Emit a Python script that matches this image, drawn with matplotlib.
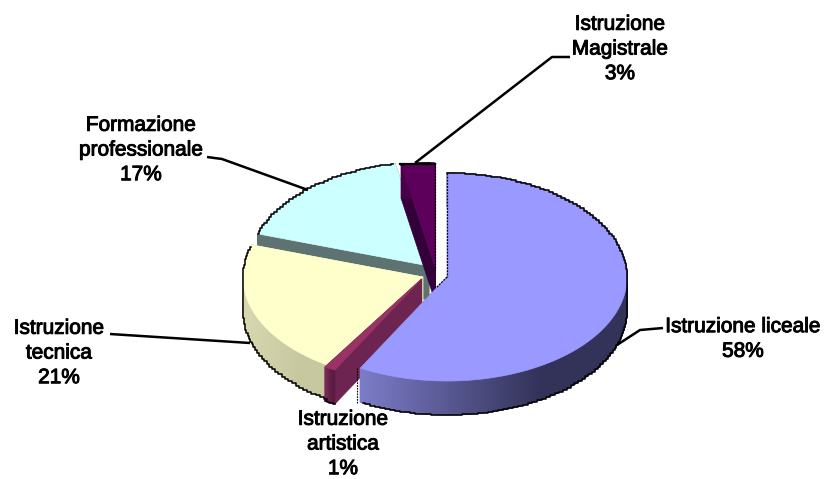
import numpy as np
import matplotlib
matplotlib.use("Agg")
import matplotlib.pyplot as plt
import matplotlib.patheffects as pe
from matplotlib.colors import to_rgb

# data (clockwise from 12 o'clock)
categories = ["Istruzione liceale", "Istruzione\nartistica", "Istruzione\ntecnica",
              "Formazione\nprofessionale", "Istruzione\nMagistrale"]
values = [58, 1, 21, 17, 3]

# style
tops = ["#9999ff", "#993366", "#ffffcc", "#ccffff", "#5c005c"]
cuts = ["#50507f", "#6e2450", "#c9c9a0", "#5f7272", "#33003a"]
wall_l = ["#7c7cc8", "#7a2a58", "#d8d8b0", "#5f7272", "#4a004a"]
wall_r = ["#33335a", "#5a1c42", "#c8c8a0", "#5f7272", "#400040"]
apex = [(447, 277), (421.5, 279), (423, 277), (429, 266), (435, 267)]
RX, RY, DEPTH = 180, 104, 34
draw_order = [3, 4, 2, 1, 0]

fig = plt.figure(figsize=(8.24, 4.79), dpi=100)
ax = fig.add_axes([0, 0, 1, 1])
ax.set_xlim(0, 824)
ax.set_ylim(479, 0)
ax.axis("off")

edges = 90 - 360 * np.concatenate([[0], np.cumsum(values)]) / sum(values)


def silhouette(cx, cy, th):
    xs, ys = [], []
    for t in th:
        r = np.deg2rad(t)
        xs.append(cx + RX * np.cos(r))
        ys.append(cy - RY * np.sin(r) + (DEPTH if np.sin(r) < 0 else 0))
    return xs, ys


for i in draw_order:
    cx, cy = apex[i]
    th = np.linspace(edges[i], edges[i + 1], max(int(abs(edges[i] - edges[i + 1])) * 3, 8))
    rad = np.deg2rad(th)
    ox, oy = cx + RX * np.cos(rad), cy - RY * np.sin(rad)
    # cut faces
    for k in (0, -1):
        ax.fill([cx, ox[k], ox[k], cx], [cy, oy[k], oy[k] + DEPTH, cy + DEPTH],
                color=cuts[i], lw=0.5, zorder=1)
    # outer wall with a horizontal gradient
    c0, c1 = np.array(to_rgb(wall_l[i])), np.array(to_rgb(wall_r[i]))
    lo, hi = ox.min(), ox.max()
    for j in range(len(th) - 1):
        f = ((ox[j] + ox[j + 1]) / 2 - lo) / max(hi - lo, 1)
        f = min(f * 1.5, 1)
        ax.fill([ox[j], ox[j + 1], ox[j + 1], ox[j]],
                [oy[j], oy[j + 1], oy[j + 1] + DEPTH, oy[j] + DEPTH],
                color=tuple(c0 + (c1 - c0) * f), lw=0.8, zorder=1)
    # top surface
    ax.fill(np.r_[cx, ox], np.r_[cy, oy], color=tops[i], lw=0.5, zorder=1)
    # jagged outer outline
    sx, sy = silhouette(cx, cy, th[::5] if len(th) > 12 else th)
    ax.plot(sx, sy, color="black", lw=1.1, drawstyle="steps-mid", zorder=2)

# straight edges of the separated slices
ax.plot([447, 447], [173, 277], color="black", lw=0.9, ls=(0, (1.5, 1)), zorder=2)
ax.plot([447, 436], [277, 288], color="black", lw=0.9, ls=(0, (1.5, 1)), zorder=2)
ax.plot([435, 435], [163, 270], color="black", lw=0.9, ls=(0, (1.5, 1)), zorder=2)
ax.plot([400, 435], [164, 164], color="black", lw=1.6, zorder=2)
ax.plot([357, 357], [368, 404], color="black", lw=0.8, ls=(0, (1.5, 1)), zorder=2)

# leader lines
leaders = [([663, 640, 617], [328, 330, 345]),
           ([110, 250], [334, 343]),
           ([207, 222, 308], [157, 159, 190]),
           ([570, 552, 415], [57, 57, 163])]
for lx, ly in leaders:
    ax.plot(lx, ly, color="black", lw=1.8, zorder=3, solid_capstyle="butt")

# labels
label_pos = [(743, 339), (343, 444), (59, 353), (141, 150), (620, 49)]
for cat, val, (x, y) in zip(categories, values, label_pos):
    ax.text(x, y, f"{cat}\n{val}%", ha="center", va="center", family="Liberation Sans",
            fontsize=15, linespacing=1.38, color="black",
            path_effects=[pe.withStroke(linewidth=0.7, foreground="black")], zorder=4)

fig.savefig("out.png", dpi=100)
